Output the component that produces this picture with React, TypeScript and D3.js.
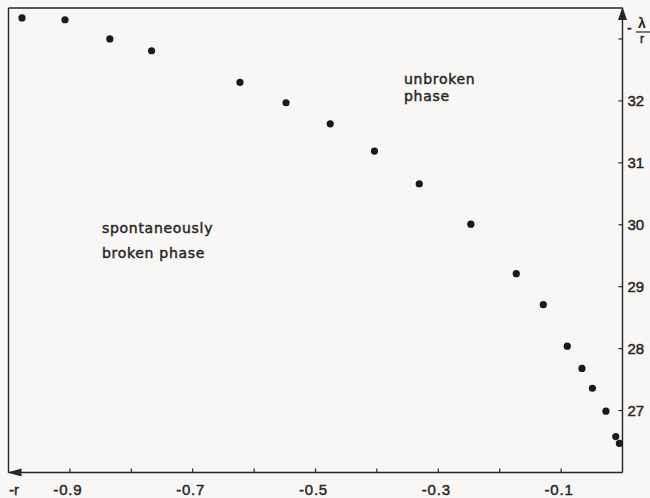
import React from "react";
import * as d3 from "d3";

// -r values and the matching -λ/r values of the measured points
const rValues = [
  -0.978, -0.908, -0.835, -0.767, -0.623, -0.548, -0.476, -0.404, -0.331,
  -0.247, -0.173, -0.129, -0.09, -0.066, -0.049, -0.027, -0.011, -0.005,
];
const lambdaValues = [
  33.34, 33.31, 33.0, 32.81, 32.3, 31.97, 31.63, 31.19, 30.66, 30.01, 29.21,
  28.71, 28.04, 27.68, 27.36, 26.99, 26.58, 26.47,
];

const xTicks = [-0.9, -0.8, -0.7, -0.6, -0.5, -0.4, -0.3, -0.2, -0.1];
const xTickLabels = ["-0.9", "", "-0.7", "", "-0.5", "", "-0.3", "", "-0.1"];
const yTicks = [27, 28, 29, 30, 31, 32, 33];
const yTickLabels = ["27", "28", "29", "30", "31", "32", ""];

const W = 650;
const H = 498;
const left = 8.5;
const right = 622.5;
const top = 8;
const bottom = 472.5;

const ink = "#262626";
const labelFont = "'Liberation Sans', Arial, sans-serif";
const textFont = "'DejaVu Sans', sans-serif";

export default function App() {
  const x = d3.scaleLinear().domain([-1, 0]).range([left, right]);
  const y = d3.scaleLinear().domain([26, 33.5]).range([bottom, top]);

  const upArrow = d3.path();
  upArrow.moveTo(right, top - 1);
  upArrow.lineTo(right - 4.5, top + 12);
  upArrow.lineTo(right + 4.5, top + 12);
  upArrow.closePath();

  const leftArrow = d3.path();
  leftArrow.moveTo(left - 1, bottom);
  leftArrow.lineTo(left + 13, bottom - 4);
  leftArrow.lineTo(left + 13, bottom + 4);
  leftArrow.closePath();

  const heavy = { stroke: ink, strokeWidth: 0.45 };

  return (
    <svg
      width={W}
      height={H}
      style={{ position: "absolute", left: 0, top: 0, background: "#f8f7f5" }}
    >
      <rect x={0} y={0} width={W} height={H} fill="#f8f7f5" />
      {/* frame: top and left edges, bottom and right axes */}
      <line x1={left} y1={top} x2={right} y2={top} stroke={ink} strokeWidth={1.4} />
      <line x1={left} y1={top} x2={left} y2={bottom} stroke={ink} strokeWidth={1.4} />
      <line x1={left} y1={bottom} x2={right} y2={bottom} stroke={ink} strokeWidth={1.4} />
      <line x1={right} y1={top} x2={right} y2={bottom} stroke={ink} strokeWidth={1.4} />
      <path d={upArrow.toString()} fill={ink} />
      <path d={leftArrow.toString()} fill={ink} />

      {/* x ticks */}
      {xTicks.map((t, i) => (
        <g key={"xt" + i}>
          <line x1={x(t)} x2={x(t)} y1={bottom} y2={bottom - 4} stroke={ink} strokeWidth={1.2} />
          {xTickLabels[i] && (
            <text
              x={x(t) - 2}
              y={bottom + 22}
              textAnchor="middle"
              fontFamily={labelFont}
              fontSize={15}
              letterSpacing={0.8}
              fill={ink}
              {...heavy}
            >
              {xTickLabels[i]}
            </text>
          )}
        </g>
      ))}
      <text x={9} y={bottom + 22} fontFamily={labelFont} fontSize={15} fill={ink} {...heavy}>
        -r
      </text>

      {/* y ticks */}
      {yTicks.map((t, i) => (
        <g key={"yt" + i}>
          <line x1={right - 4} x2={right} y1={y(t)} y2={y(t)} stroke={ink} strokeWidth={1.2} />
          {yTickLabels[i] && (
            <text
              x={right + 5}
              y={y(t) + 5}
              fontFamily={labelFont}
              fontSize={15}
              fill={ink}
              {...heavy}
            >
              {yTickLabels[i]}
            </text>
          )}
        </g>
      ))}

      {/* y axis title: -λ/r */}
      <text x={627} y={33} fontFamily={labelFont} fontSize={14} fill={ink} {...heavy}>
        -
      </text>
      <text x={642} y={28} textAnchor="middle" fontFamily={labelFont} fontSize={14} fontWeight="bold" fill={ink}>
        λ
      </text>
      <line x1={636} x2={650} y1={32} y2={32} stroke={ink} strokeWidth={1.2} />
      <text x={642} y={43} textAnchor="middle" fontFamily={labelFont} fontSize={12} fill={ink} {...heavy}>
        r
      </text>

      {/* region labels */}
      <text fontFamily={textFont} fontSize={14} letterSpacing={0.7} fill={ink} {...heavy}>
        <tspan x={404} y={84}>unbroken</tspan>
        <tspan x={404} y={101}>phase</tspan>
      </text>
      <text fontFamily={textFont} fontSize={14} letterSpacing={0.7} fill={ink} {...heavy}>
        <tspan x={102} y={233}>spontaneously</tspan>
        <tspan x={102} y={258}>broken phase</tspan>
      </text>

      {/* data points */}
      {rValues.map((r, i) => (
        <circle key={"p" + i} cx={x(r)} cy={y(lambdaValues[i])} r={3.6} fill="#1a1a1a" />
      ))}
    </svg>
  );
}
